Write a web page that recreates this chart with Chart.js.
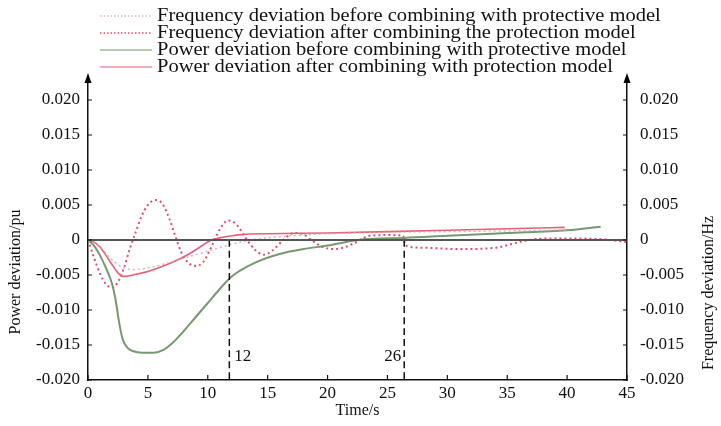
<!DOCTYPE html>
<html>
<head>
<meta charset="utf-8">
<script src="https://cdn.jsdelivr.net/npm/chart.js@4.4.0/dist/chart.umd.min.js"></script>
<style>
  html, body { margin: 0; padding: 0; background: #fff; }
  #wrap { width: 721px; height: 426px; position: relative; }
</style>
</head>
<body>
<div id="wrap"><canvas id="grafico"></canvas></div>
<script>
// tick values
const xTicks = [0, 5, 10, 15, 20, 25, 30, 35, 40, 45];
const yTicks = [-0.02, -0.015, -0.01, -0.005, 0, 0.005, 0.01, 0.015, 0.02];

// frequency deviation before combining (faint dotted)
const freqBeforeT = [0, 1, 2, 3, 4, 6, 8, 10, 12, 14, 17, 20, 25, 30, 35, 40];
const freqBeforeV = [0, -0.001, -0.0028, -0.004, -0.0042, -0.0036, -0.0026, -0.0016, -0.0006, 0.0001, 0.0006, 0.0009, 0.0011, 0.0012, 0.0013, 0.0014];

// frequency deviation after combining (red dotted)
const freqAfterT = [0, 0.5, 1, 1.5, 2, 2.5, 3, 3.5, 4, 4.5, 5, 5.6, 6.2, 6.8, 7.3, 7.8, 8.4, 9, 9.6, 10.3, 11, 11.7, 12.4, 13.2, 14, 14.7, 15.4, 16.3, 17.2, 18, 18.8, 19.6, 20.5, 21.5, 22.5, 23.5, 25, 26.3, 26.5, 28, 31, 34, 36.5, 38, 41, 43, 45];
const freqAfterV = [0, -0.0025, -0.0048, -0.0063, -0.0068, -0.006, -0.004, -0.0012, 0.0012, 0.0035, 0.005, 0.0057, 0.0052, 0.003, 0.0005, -0.0018, -0.0033, -0.0037, -0.0032, -0.001, 0.0015, 0.0028, 0.0022, 0.0002, -0.0015, -0.0021, -0.0015, 0, 0.001, 0.0008, -0.0002, -0.001, -0.0013, -0.001, -0.0002, 0.0006, 0.0007, 0.0006, -0.0008, -0.0011, -0.0013, -0.0011, -0.0001, 0.0002, 0.0002, 0.0001, -0.0003];

// power deviation before combining (green)
const powerBeforeT = [0, 0.5, 1, 1.5, 2, 2.3, 2.6, 2.9, 3.3, 3.8, 4.5, 5.5, 6.3, 7, 8, 9, 10, 11, 12, 14, 16, 18, 20, 23, 26.4, 30, 35, 40, 42.8];
const powerBeforeV = [0, -0.0008, -0.0022, -0.004, -0.0062, -0.0085, -0.0118, -0.0142, -0.0154, -0.0159, -0.0161, -0.0161, -0.0157, -0.0148, -0.013, -0.011, -0.009, -0.007, -0.0052, -0.0032, -0.002, -0.0013, -0.0008, 0.0001, 0.0003, 0.0006, 0.001, 0.0014, 0.0019];

// power deviation after combining (red solid)
const powerAfterT = [0, 0.5, 1, 1.5, 2, 2.5, 2.9, 4, 5, 6, 7, 8, 9, 10.3, 11, 12, 13, 15, 20, 25, 30, 35, 39.8];
const powerAfterV = [0, -0.0003, -0.001, -0.0022, -0.0035, -0.0047, -0.0052, -0.0049, -0.0045, -0.0039, -0.0032, -0.0024, -0.0014, 0, 0.0003, 0.0006, 0.0008, 0.0009, 0.001, 0.0012, 0.0014, 0.0016, 0.0018];

// marker lines
const markerTimes = [11.8, 26.4];
const markerLabels = ["12", "26"];

const legendLabels = [
  "Frequency deviation before combining with protective model",
  "Frequency deviation after combining the protection model",
  "Power deviation before combining with protective model",
  "Power deviation after combining with protection model",
];

const fonte = '"Liberation Serif", "DejaVu Serif", serif';

function pontos(ts, vs) {
  return ts.map((t, i) => ({ x: t, y: vs[i] }));
}

const serieFreqAntes = {
  label: legendLabels[0],
  data: pontos(freqBeforeT, freqBeforeV),
  yAxisID: "y1",
  borderColor: "rgba(205, 165, 170, 0.8)",
  borderWidth: 1.5,
  borderDash: [2, 3],
};
const serieFreqDepois = {
  label: legendLabels[1],
  data: pontos(freqAfterT, freqAfterV),
  yAxisID: "y1",
  borderColor: "rgb(222, 80, 105)",
  borderWidth: 2,
  borderDash: [2, 3],
};
const seriePotAntes = {
  label: legendLabels[2],
  data: pontos(powerBeforeT, powerBeforeV),
  yAxisID: "y",
  borderColor: "rgb(120, 152, 112)",
  borderWidth: 2,
};
const seriePotDepois = {
  label: legendLabels[3],
  data: pontos(powerAfterT, powerAfterV),
  yAxisID: "y",
  borderColor: "rgb(232, 95, 118)",
  borderWidth: 1.6,
};

const linhaZero = {
  label: "zero",
  data: pontos([0, 45], [0, 0]),
  yAxisID: "y",
  borderColor: "#555",
  borderWidth: 2,
};

const marcadores = markerTimes.map((t) => ({
  label: "marker",
  data: pontos([t, t], [0, -0.02]),
  yAxisID: "y",
  borderColor: "#111",
  borderWidth: 1.5,
  borderDash: [7, 4],
}));

const seriesLegenda = [serieFreqAntes, serieFreqDepois, seriePotAntes, seriePotDepois];

// desenha legenda, titulos, setas e ticks internos
const extras = {
  id: "extras",
  afterDraw(chart) {
    const ctx = chart.ctx;
    const area = chart.chartArea;
    const sx = chart.scales.x;
    const sy = chart.scales.y;
    const sy1 = chart.scales.y1;

    ctx.save();
    // ticks internos
    ctx.strokeStyle = "#111";
    ctx.lineWidth = 1.2;
    ctx.beginPath();
    xTicks.forEach((v) => {
      const px = sx.getPixelForValue(v);
      ctx.moveTo(px, area.bottom);
      ctx.lineTo(px, area.bottom - 5);
    });
    yTicks.forEach((v) => {
      const py = sy.getPixelForValue(v);
      ctx.moveTo(area.left, py);
      ctx.lineTo(area.left + 4, py);
      const py1 = sy1.getPixelForValue(v);
      ctx.moveTo(area.right, py1);
      ctx.lineTo(area.right - 4, py1);
    });
    ctx.stroke();

    // setas no topo dos eixos
    ctx.fillStyle = "#000";
    [area.left, area.right].forEach((px) => {
      ctx.beginPath();
      ctx.moveTo(px, area.top - 6);
      ctx.lineTo(px - 3.5, area.top + 4);
      ctx.lineTo(px + 3.5, area.top + 4);
      ctx.closePath();
      ctx.fill();
    });

    // rotulos das linhas tracejadas
    ctx.font = "17px " + fonte;
    ctx.fillStyle = "#111";
    ctx.textBaseline = "middle";
    const yRot = sy.getPixelForValue(-0.0167);
    ctx.textAlign = "left";
    ctx.fillText(markerLabels[0], sx.getPixelForValue(markerTimes[0]) + 5, yRot);
    ctx.textAlign = "right";
    ctx.fillText(markerLabels[1], sx.getPixelForValue(markerTimes[1]) - 3, yRot);

    // legenda
    ctx.textAlign = "left";
    ctx.font = "18px " + fonte;
    seriesLegenda.forEach((ds, i) => {
      const yy = 16 + i * 17;
      ctx.strokeStyle = ds.borderColor;
      ctx.lineWidth = ds.borderDash ? 1.5 : 1.2;
      ctx.setLineDash(ds.borderDash ? [1.5, 2] : []);
      ctx.beginPath();
      ctx.moveTo(100, yy);
      ctx.lineTo(152, yy);
      ctx.stroke();
      ctx.setLineDash([]);
      ctx.save();
      ctx.translate(157, yy);
      ctx.scale(1.14, 1);
      ctx.fillStyle = "#111";
      ctx.fillText(ds.label, 0, 0);
      ctx.restore();
    });

    // titulos dos eixos
    ctx.font = "16px " + fonte;
    ctx.textAlign = "center";
    ctx.fillStyle = "#111";
    ctx.fillText("Time/s", (area.left + area.right) / 2, 411);
    ctx.save();
    ctx.translate(16, 272);
    ctx.rotate(-Math.PI / 2);
    ctx.fillText("Power deviation/pu", 0, 0);
    ctx.restore();
    ctx.save();
    ctx.translate(709, 293);
    ctx.rotate(-Math.PI / 2);
    ctx.fillText("Frequency deviation/Hz", 0, 0);
    ctx.restore();
    ctx.restore();
  },
};

function rotuloY(v) {
  if (Math.abs(v) < 1e-9) return "0";
  return v.toFixed(3);
}

function fixarTicksY(scale) {
  scale.ticks = yTicks.map((v) => ({ value: v }));
}

const eixoBorda = { display: true, color: "#111", width: 1.5 };

new Chart(document.getElementById("grafico").getContext("2d"), {
  type: "line",
  data: {
    datasets: [linhaZero, ...marcadores, serieFreqAntes, seriePotAntes, seriePotDepois, serieFreqDepois],
  },
  options: {
    responsive: true,
    maintainAspectRatio: false,
    animation: false,
    layout: { padding: { top: 79, left: 0, right: 0, bottom: 0 } },
    elements: {
      point: { radius: 0 },
      line: { cubicInterpolationMode: "monotone", fill: false },
    },
    plugins: { legend: { display: false }, tooltip: { enabled: false } },
    scales: {
      x: {
        type: "linear",
        min: 0,
        max: 45,
        afterBuildTicks: (s) => { s.ticks = xTicks.map((v) => ({ value: v })); },
        afterFit: (s) => { s.height = 46; },
        grid: { display: false, drawTicks: false },
        border: eixoBorda,
        ticks: { padding: 3, color: "#111", font: { family: fonte, size: 17 } },
      },
      y: {
        type: "linear",
        position: "left",
        min: -0.02,
        max: 0.023,
        afterBuildTicks: fixarTicksY,
        afterFit: (s) => { s.width = 88; },
        grid: { display: false, drawTicks: false },
        border: eixoBorda,
        ticks: { padding: 8, color: "#111", font: { family: fonte, size: 17 }, callback: rotuloY },
      },
      y1: {
        type: "linear",
        position: "right",
        min: -0.02,
        max: 0.023,
        afterBuildTicks: fixarTicksY,
        afterFit: (s) => { s.width = 94; },
        grid: { display: false, drawTicks: false },
        border: eixoBorda,
        ticks: { padding: 13, color: "#111", font: { family: fonte, size: 17 }, callback: rotuloY },
      },
    },
  },
  plugins: [extras],
});
</script>
</body>
</html>
